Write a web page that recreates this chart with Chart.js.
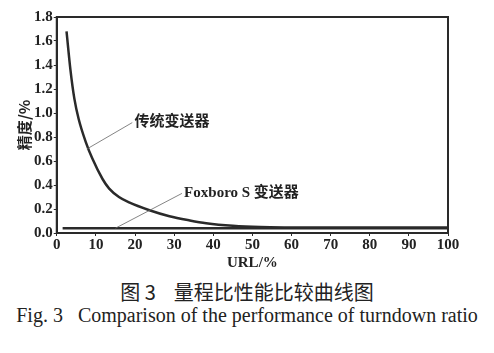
<!DOCTYPE html>
<html>
<head>
<meta charset="utf-8">
<script src="https://cdn.jsdelivr.net/npm/chart.js@4.4.0/dist/chart.umd.min.js"></script>
<style>
  body { margin: 0; background: #fff; }
  #wrap { position: relative; width: 494px; height: 353px; }
  #chartBox { position: absolute; left: 0; top: 0; width: 494px; height: 272px; }
  .cap { position: absolute; left: 0; width: 494px; text-align: center; color: #222; white-space: pre; }
  #capCn { top: 277px; font: 20px "Noto Sans CJK SC", sans-serif; }
  #capEn { top: 304px; font: 20px "Liberation Serif", serif; }
</style>
</head>
<body>
<div id="wrap">
  <div id="chartBox"><canvas id="chart"></canvas></div>
  <div class="cap" id="capCn">图 3    量程比性能比较曲线图</div>
  <div class="cap" id="capEn">Fig. 3   Comparison of the performance of turndown ratio</div>
</div>
<script>
// URL (%) vs accuracy (%)
const tradUrl = [2.5, 3.5, 4.5, 5.6, 7.4, 9.1, 11.7, 13.4, 15.9, 18.5, 23.7, 28.8, 34, 38.2, 45, 52, 60, 70, 80, 90, 100];
const tradAcc = [1.68, 1.36, 1.12, 0.95, 0.76, 0.62, 0.45, 0.37, 0.30, 0.255, 0.19, 0.14, 0.105, 0.082, 0.06, 0.049, 0.046, 0.045, 0.045, 0.045, 0.045];
const foxUrl = [1.5, 100];
const foxAcc = [0.04, 0.04];
const xTicks = [0, 10, 20, 30, 40, 50, 60, 70, 80, 90, 100];
const yTicks = [0, 0.2, 0.4, 0.6, 0.8, 1.0, 1.2, 1.4, 1.6, 1.8];

// text labels with leader lines, in data units
const notes = [
  { text: "传统变送器", from: [7.7, 0.70], to: [19.3, 0.92], tx: 19.6, ty: 0.92 },
  { text: "Foxboro S 变送器", from: [15, 0.04], to: [32, 0.33], tx: 32.3, ty: 0.33 }
];

const tickFont = { family: "'Liberation Serif', serif", size: 15, weight: "bold" };

const framePlugin = {
  id: "frame",
  afterDatasetsDraw(chart) {
    const { ctx, chartArea: a, scales: { x, y } } = chart;
    ctx.save();
    ctx.strokeStyle = "#2a2a2a";
    ctx.lineWidth = 2;
    ctx.strokeRect(a.left, a.top, a.right - a.left, a.bottom - a.top);
    // leader lines and labels
    ctx.lineWidth = 0.8;
    ctx.strokeStyle = "#666";
    notes.forEach(n => {
      ctx.beginPath();
      ctx.moveTo(x.getPixelForValue(n.from[0]), y.getPixelForValue(n.from[1]));
      ctx.lineTo(x.getPixelForValue(n.to[0]), y.getPixelForValue(n.to[1]));
      ctx.stroke();
      ctx.fillStyle = "#222";
      ctx.font = "bold 15px 'Liberation Serif', 'Noto Sans CJK SC', serif";
      ctx.textBaseline = "middle";
      ctx.textAlign = "left";
      ctx.fillText(n.text, x.getPixelForValue(n.tx) + 1, y.getPixelForValue(n.ty));
    });
    ctx.restore();
  }
};

new Chart(document.getElementById("chart"), {
  type: "line",
  data: {
    datasets: [
      {
        label: "传统变送器",
        data: tradUrl.map((u, i) => ({ x: u, y: tradAcc[i] })),
        borderColor: "#2a2a2a",
        borderWidth: 2.5,
        pointRadius: 0,
        cubicInterpolationMode: "monotone",
        fill: false
      },
      {
        label: "Foxboro S 变送器",
        data: foxUrl.map((u, i) => ({ x: u, y: foxAcc[i] })),
        borderColor: "#2a2a2a",
        borderWidth: 2.5,
        pointRadius: 0,
        fill: false
      }
    ]
  },
  options: {
    responsive: true,
    maintainAspectRatio: false,
    animation: false,
    layout: { padding: { top: 17, right: 46, left: 0, bottom: 0 } },
    plugins: { legend: { display: false }, tooltip: { enabled: false } },
    scales: {
      x: {
        type: "linear",
        min: 0, max: 100,
        afterBuildTicks: s => { s.ticks = xTicks.map(v => ({ value: v })); },
        ticks: { color: "#222", font: tickFont, padding: 0, maxRotation: 0 },
        grid: { drawOnChartArea: false, tickLength: 3, color: "#2a2a2a" },
        border: { color: "#2a2a2a", width: 2 },
        title: { display: true, text: "URL/%", color: "#222", font: tickFont, padding: { top: 0, bottom: 0 } }
      },
      y: {
        min: 0, max: 1.8,
        afterBuildTicks: s => { s.ticks = yTicks.map(v => ({ value: v })); },
        ticks: { color: "#222", font: tickFont, padding: 1, callback: v => v.toFixed(1) },
        grid: { drawOnChartArea: false, tickLength: 3, color: "#2a2a2a" },
        border: { color: "#2a2a2a", width: 2 },
        title: { display: true, text: "精度/%", color: "#222", font: { family: "'Noto Sans CJK SC', sans-serif", size: 15, weight: "bold" }, padding: { top: 15, bottom: 0 } }
      }
    }
  },
  plugins: [framePlugin]
});
</script>
</body>
</html>
